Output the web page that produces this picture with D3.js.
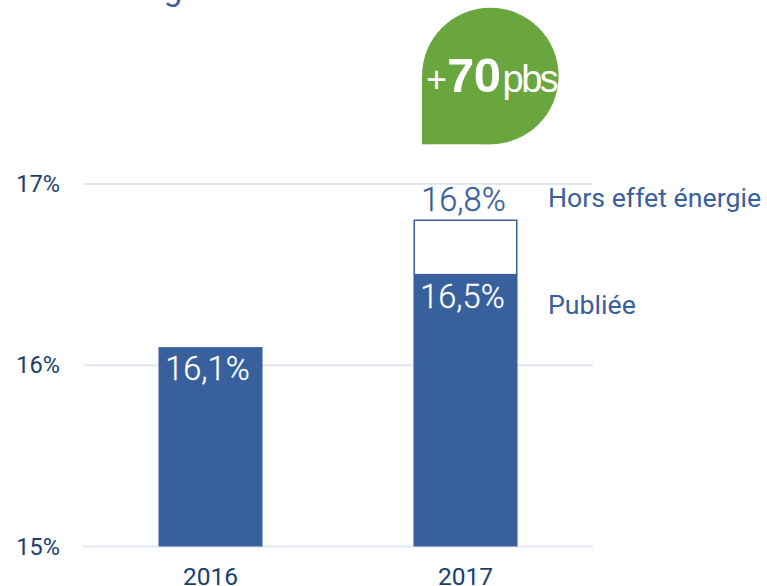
<!DOCTYPE html>
<html><head><meta charset="utf-8">
<script src="https://cdn.jsdelivr.net/npm/d3@7"></script>
<style>html,body{margin:0;background:#fff}svg{display:block}text{font-family:Roboto,sans-serif}</style>
</head><body><svg id="c" width="767" height="586"></svg>
<script>
const categories = ["2016","2017"];
const publiee = [16.1,16.5];
const horsEffet = [null,16.8];
const yTicks = [15,16,17];
const labelsPubliee = ["16,1%","16,5%"];
const labelHors = "16,8%";
const seriesNames = ["Hors effet énergie","Publiée"];
const badge = ["+","70","pbs"];
const titleText = "Hors énergie";

const svg = d3.select("#c");
const blue="#38609c", dark="#17406f", grid="#e1e7f3", green="#6aa63e";
const y = d3.scaleLinear().domain([15,17]).range([546.5,184]);
const x = d3.scaleBand().domain(categories).range([83,593]).paddingInner(0.592).paddingOuter(0.296);

svg.append("text").attr("x",21).attr("y",0.3).attr("font-size",33).attr("fill",blue).text(titleText);

svg.append("g").selectAll("line").data(yTicks).join("line")
 .attr("x1",83).attr("x2",593).attr("y1",d=>y(d)).attr("y2",d=>y(d))
 .attr("stroke",grid).attr("stroke-width",2);
svg.append("g").selectAll("text").data(yTicks).join("text")
 .attr("x",60).attr("y",d=>y(d)+8).attr("text-anchor","end").attr("font-size",23.5).attr("fill",dark).text(d=>d+"%");

svg.append("g").selectAll("rect").data(publiee).join("rect")
 .attr("x",(d,i)=>x(categories[i])).attr("width",x.bandwidth())
 .attr("y",d=>y(d)).attr("height",d=>y(15)-y(d)).attr("fill",blue);
svg.append("g").selectAll("rect").data(horsEffet.filter(d=>d!=null)).join("rect")
 .attr("x",x("2017")+.75).attr("width",x.bandwidth()-1.5)
 .attr("y",d=>y(d)).attr("height",d=>y(publiee[1])-y(d))
 .attr("fill","#fff").attr("stroke",blue).attr("stroke-width",1.5);

svg.append("g").selectAll("text").data(publiee).join("text")
 .attr("x",(d,i)=>x(categories[i])+x.bandwidth()/2-3).attr("y",d=>y(d)+33)
 .attr("text-anchor","middle").attr("font-size",32.5).attr("font-weight",300)
 .attr("fill","#fff").attr("stroke","#fff").attr("stroke-width",0.3).text((d,i)=>labelsPubliee[i]);
svg.append("text").attr("x",x("2017")+x.bandwidth()/2-2).attr("y",y(16.8)-9)
 .attr("text-anchor","middle").attr("font-size",32.5).attr("font-weight",300)
 .attr("fill",blue).attr("stroke",blue).attr("stroke-width",0.3).text(labelHors);

svg.append("text").attr("x",548).attr("y",y(16.8)-13).attr("font-size",26.7).attr("fill",blue).text(seriesNames[0]);
svg.append("text").attr("x",548).attr("y",y(16.5)+39).attr("font-size",26.7).attr("fill",blue).text(seriesNames[1]);

svg.append("g").selectAll("text").data(categories).join("text")
 .attr("x",d=>x(d)+x.bandwidth()/2).attr("y",585).attr("text-anchor","middle").attr("font-size",24.5).attr("fill",dark).text(d=>d);

// badge: teardrop with square bottom-left corner
const cx=490.3, cy=76, r=68.3;
svg.append("circle").attr("cx",cx).attr("cy",cy).attr("r",r).attr("fill",green);
svg.append("rect").attr("x",cx-r).attr("y",cy).attr("width",r).attr("height",r).attr("fill",green);
const t=svg.append("text").attr("x",426).attr("y",92).attr("fill","#fff");
t.append("tspan").attr("font-size",36).style("font-family","Liberation Sans").text(badge[0]);
t.append("tspan").attr("font-size",49).attr("font-weight",700).style("font-family","Liberation Sans").attr("letter-spacing",-.5).text(badge[1]);
t.append("tspan").attr("font-size",38).attr("dx",2).style("font-family","Liberation Sans").attr("letter-spacing",-2.5).text(badge[2]);
</script></body></html>
